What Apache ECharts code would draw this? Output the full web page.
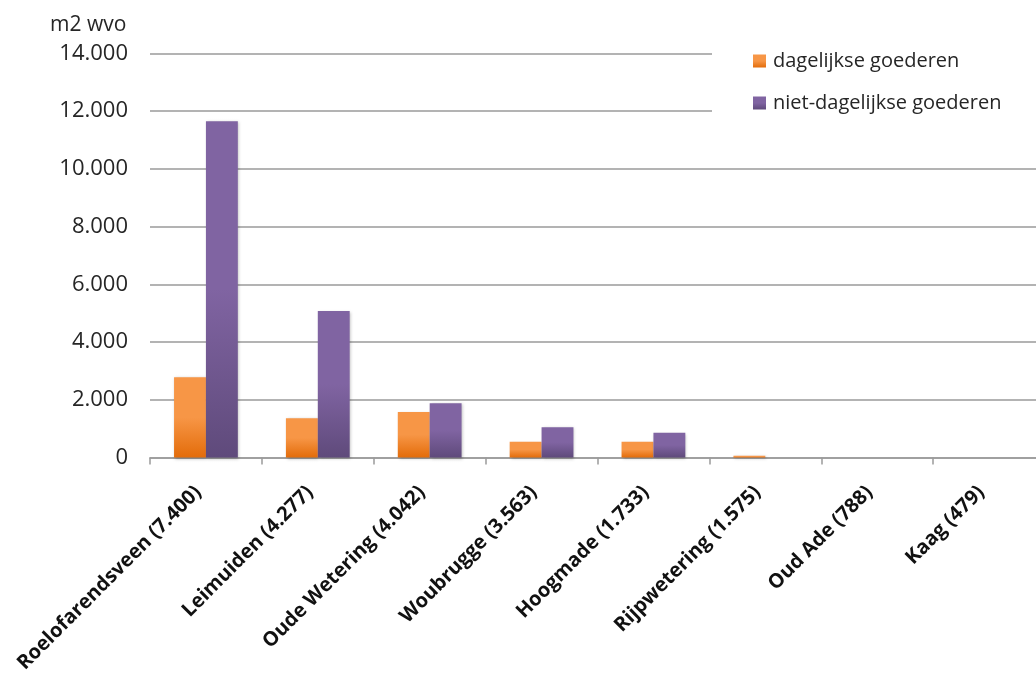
<!DOCTYPE html>
<html>
<head>
<meta charset="utf-8">
<script src="https://cdn.jsdelivr.net/npm/echarts@6/dist/echarts.min.js"></script>
<style>
html,body{margin:0;padding:0;background:#fff;}
#chart{width:1036px;height:676px;}
</style>
</head>
<body>
<div id="chart"></div>
<script>
var categories = ['Roelofarendsveen (7.400)', 'Leimuiden (4.277)', 'Oude Wetering (4.042)', 'Woubrugge (3.563)', 'Hoogmade (1.733)', 'Rijpwetering (1.575)', 'Oud Ade (788)', 'Kaag (479)'];
var dagelijks = [2780, 1360, 1580, 550, 550, 60, 0, 0];
var nietDagelijks = [11650, 5080, 1880, 1050, 860, 0, 0, 0];
var seriesNames = ['dagelijkse goederen', 'niet-dagelijkse goederen'];
var yTicks = [0, 2000, 4000, 6000, 8000, 10000, 12000, 14000];

var chart = echarts.init(document.getElementById('chart'), null, {renderer: 'canvas'});

function grad(top, bottom) {
  return new echarts.graphic.LinearGradient(0, 0, 0, 1, [
    {offset: 0, color: top},
    {offset: 0.5, color: top},
    {offset: 1, color: bottom}
  ]);
}

chart.setOption({
  animation: false,
  backgroundColor: '#ffffff',
  title: {
    text: 'm2 wvo',
    left: 45,
    top: 10,
    textStyle: {fontFamily: 'Open Sans', fontSize: 21, fontWeight: 'normal', color: '#262626'}
  },
  legend: {
    orient: 'vertical',
    left: 712,
    top: 36,
    padding: [15, 40, 15, 41],
    backgroundColor: '#ffffff',
    itemWidth: 13,
    itemHeight: 13,
    itemGap: 22,
    icon: 'rect',
    data: seriesNames,
    textStyle: {fontFamily: 'Open Sans', fontSize: 20, color: '#262626', padding: [0, 0, 0, 2]}
  },
  grid: {left: 150, right: -9, top: 53.5, bottom: 218.5, containLabel: false, outerBoundsMode: 'none'},
  xAxis: {
    type: 'category',
    data: categories,
    axisLine: {lineStyle: {color: '#9a9a9a', width: 1.5}},
    axisTick: {show: true, length: 7, lineStyle: {color: '#9a9a9a', width: 1.5}},
    axisLabel: {
      interval: 0,
      rotate: 45,
      margin: 24,
      padding: [0, 11, 0, 0],
      fontFamily: 'Open Sans',
      fontWeight: 'bold',
      fontSize: 20,
      color: '#111111'
    }
  },
  yAxis: {
    type: 'value',
    min: yTicks[0],
    max: yTicks[yTicks.length - 1],
    interval: 2000,
    axisLine: {show: false},
    axisTick: {show: false},
    splitLine: {lineStyle: {color: '#9a9a9a', width: 1.5}},
    axisLabel: {
      margin: 22,
      fontFamily: 'Open Sans',
      fontSize: 22,
      color: '#262626',
      formatter: function (v) {
        return String(v).replace(/\B(?=(\d{3})+(?!\d))/g, '.');
      }
    }
  },
  series: [
    {
      name: seriesNames[0],
      type: 'bar',
      data: dagelijks,
      barGap: '0%',
      barCategoryGap: '43%',
      itemStyle: {
        color: grad('#F79646', '#E36C0A'),
        shadowColor: 'rgba(0,0,0,0.25)', shadowBlur: 3, shadowOffsetX: 1, shadowOffsetY: 1
      }
    },
    {
      name: seriesNames[1],
      type: 'bar',
      data: nietDagelijks,
      barGap: '0%',
      barCategoryGap: '43%',
      itemStyle: {
        color: grad('#8064A2', '#5F4A7B'),
        shadowColor: 'rgba(0,0,0,0.25)', shadowBlur: 3, shadowOffsetX: 1, shadowOffsetY: 1
      }
    }
  ]
});
</script>
</body>
</html>
